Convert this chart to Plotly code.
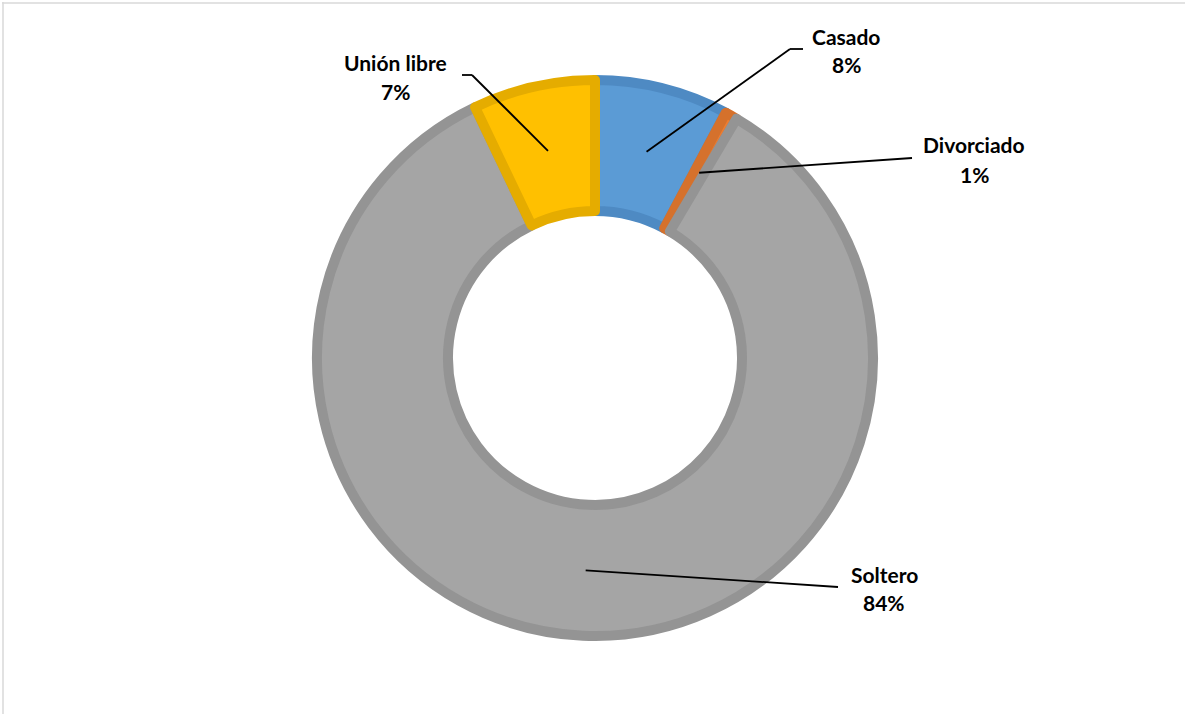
import math
import plotly.graph_objects as go

# ---- data ----
categories = ["Casado", "Divorciado", "Soltero", "Unión libre"]
values = [7.8, 0.7, 84.4, 7.1]
fill_colors = ["#5B9BD5", "#ED7D31", "#A5A5A5", "#FFC000"]
edge_colors = ["#4E8AC3", "#D5712C", "#949494", "#E5AC00"]

# ---- layout constants (pixels) ----
W, H = 1185, 714
CX, CY = 595, 358          # pie centre
R_OUT, R_IN = 283, 142     # visible outer / inner radius of ring
LW = 10                    # slice outline width
R_PATH = R_OUT - LW / 2
HOLE = (R_IN + LW / 2) / R_PATH

# label placement: name centre, pct centre, leader polyline end points
label_layout = {
    "Casado":      dict(name=(846, 36), pct=(846, 64), pts=[(790, 49), (803, 49)]),
    "Divorciado":  dict(name=(974, 145), pct=(974, 174), pts=[(912, 158)]),
    "Soltero":     dict(name=(884, 574), pct=(884, 602), pts=[(838, 587)]),
    "Unión libre": dict(name=(395, 62), pct=(395, 91), pts=[(472, 75), (462, 75)]),
}

def px(x):
    return x / W

def py(y):
    return 1 - y / H

fig = go.Figure(go.Pie(
    labels=categories,
    values=values,
    sort=False,
    direction="clockwise",
    rotation=0,
    hole=HOLE,
    textinfo="none",
    showlegend=False,
    marker=dict(colors=fill_colors, line=dict(color=edge_colors, width=LW)),
    domain=dict(x=[px(CX - R_PATH), px(CX + R_PATH)],
                y=[py(CY + R_PATH), py(CY - R_PATH)]),
))

total = sum(values)
shapes = []
annotations = []
cum = 0.0
font = dict(family="Lato, Carlito, Liberation Sans, sans-serif", size=21, color="#000000")
for cat, v in zip(categories, values):
    mid = (cum + v / 2) / total * 2 * math.pi
    cum += v
    r_mid = (R_OUT + R_IN) / 2
    sx = CX + r_mid * math.sin(mid)
    sy = CY - r_mid * math.cos(mid)
    lay = label_layout[cat]
    pts = [(sx, sy)] + lay["pts"]
    for (x0, y0), (x1, y1) in zip(pts[:-1], pts[1:]):
        shapes.append(dict(type="line", xref="paper", yref="paper",
                           x0=px(x0), y0=py(y0), x1=px(x1), y1=py(y1),
                           line=dict(color="#000000", width=1.8)))
    pct = f"{round(v / total * 100)}%"
    annotations.append(dict(text=f"<b>{cat}</b>", x=px(lay["name"][0]), y=py(lay["name"][1]),
                            xref="paper", yref="paper", showarrow=False,
                            xanchor="center", yanchor="middle", font=font))
    annotations.append(dict(text=f"<b>{pct}</b>", x=px(lay["pct"][0]), y=py(lay["pct"][1]),
                            xref="paper", yref="paper", showarrow=False,
                            xanchor="center", yanchor="middle", font=font))

# chart area border (left and top visible)
shapes.append(dict(type="line", xref="paper", yref="paper", x0=px(3), x1=px(3),
                   y0=py(2), y1=py(H + 5), line=dict(color="#D9D9D9", width=1.5)))
shapes.append(dict(type="line", xref="paper", yref="paper", x0=px(2), x1=px(W + 5),
                   y0=py(3), y1=py(3), line=dict(color="#D9D9D9", width=1.5)))

fig.update_layout(
    width=W, height=H,
    margin=dict(l=0, r=0, t=0, b=0),
    paper_bgcolor="#FFFFFF",
    plot_bgcolor="#FFFFFF",
    shapes=shapes,
    annotations=annotations,
)

fig.write_html(
    "out.html",
    config={"displayModeBar": False},
    post_script="document.body.style.margin='0';document.body.style.overflow='hidden';",
)
